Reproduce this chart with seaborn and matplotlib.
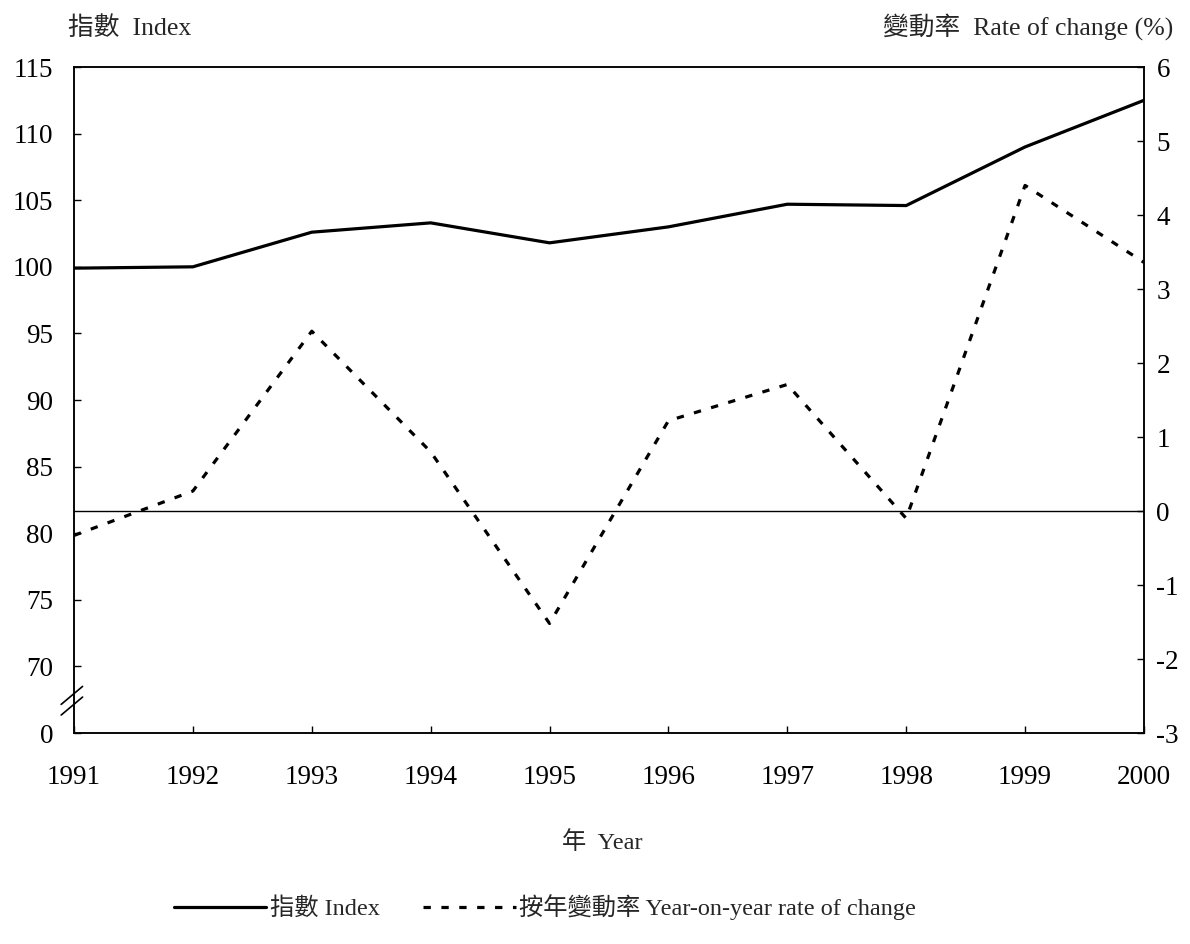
import matplotlib
matplotlib.use("Agg")
import matplotlib.pyplot as plt
import seaborn as sns
import pandas as pd
from matplotlib.font_manager import FontProperties

years = [1991, 1992, 1993, 1994, 1995, 1996, 1997, 1998, 1999, 2000]
index_values = [99.9, 100.0, 102.6, 103.3, 101.8, 103.0, 104.7, 104.6, 109.0, 112.5]
rate_values = [-0.33, 0.27, 2.43, 0.80, -1.52, 1.22, 1.71, -0.10, 4.40, 3.36]

left_ticks = [65, 70, 75, 80, 85, 90, 95, 100, 105, 110, 115]
left_labels = ["0", "70", "75", "80", "85", "90", "95", "100", "105", "110", "115"]
right_ticks = [-3, -2, -1, 0, 1, 2, 3, 4, 5, 6]
right_labels = ["-3", "-2", "-1", "0", "1", "2", "3", "4", "5", "6"]

label_left = "指數  Index"
label_right = "變動率  Rate of change (%)"
label_x = "年  Year"
legend_index = "指數 Index"
legend_rate = "按年變動率 Year-on-year rate of change"

sns.set_style("ticks")
FAM = ["Liberation Serif", "Noto Sans CJK TC"]
plt.rcParams["font.family"] = FAM

df = pd.DataFrame({"year": years, "index": index_values, "rate": rate_values})

fig = plt.figure(figsize=(11.9, 9.44), dpi=100)
ax = fig.add_axes([0.0622, 0.2235, 0.8991, 0.7055])
ax2 = ax.twinx()

sns.lineplot(data=df, x="year", y="index", ax=ax, color="black", linewidth=2.3,
             label=legend_index, legend=False)
sns.lineplot(data=df, x="year", y="rate", ax=ax2, color="black", linewidth=2.3,
             label=legend_rate, legend=False)
ax2.lines[0].set_dashes([2.3, 3.3])
ax2.axhline(0, color="black", linewidth=1.0)

ax.set_xlim(years[0], years[-1])
ax.set_ylim(left_ticks[0], left_ticks[-1])
ax2.set_ylim(right_ticks[0], right_ticks[-1])
ax.set_xticks(years)
ax.set_xticklabels([str(y) for y in years])
ax.set_yticks(left_ticks)
ax.set_yticklabels(left_labels)
ax2.set_yticks(right_ticks)
ax2.set_yticklabels(right_labels)
ax.set_xlabel("")
ax.set_ylabel("")
ax2.set_ylabel("")

for a in (ax, ax2):
    for s in a.spines.values():
        s.set_visible(True)
        s.set_linewidth(1.1)
        s.set_color("black")
ax.tick_params(axis="both", direction="in", length=5, width=1, labelsize=19.5, colors="black")
ax.tick_params(axis="x", pad=23)
ax.tick_params(axis="y", pad=15)
ax2.tick_params(axis="y", direction="in", length=5, width=1, labelsize=19.5, pad=9, colors="black")

# axis break marks
for off in (0.0, 0.016):
    ax.plot([-0.012, 0.008], [0.027 + off, 0.054 + off], transform=ax.transAxes,
            color="black", linewidth=1.2, clip_on=False)

fig.text(0.057, 0.970, label_left, fontsize=18.5, ha="left", va="center")
fig.text(0.986, 0.972, label_right, fontsize=18.5, ha="right", va="center")
fig.text(0.506, 0.107, label_x, fontsize=17.5, ha="center", va="center")

handles = [ax.lines[0], ax2.lines[0]]
leg = fig.legend(handles, [legend_index, legend_rate], loc="center", bbox_to_anchor=(0.458, 0.039),
                 ncol=2, frameon=False, prop=FontProperties(family=FAM, size=17.5),
                 handlelength=3.8, handletextpad=0.15, columnspacing=1.8)

fig.savefig("out.png", dpi=100)
